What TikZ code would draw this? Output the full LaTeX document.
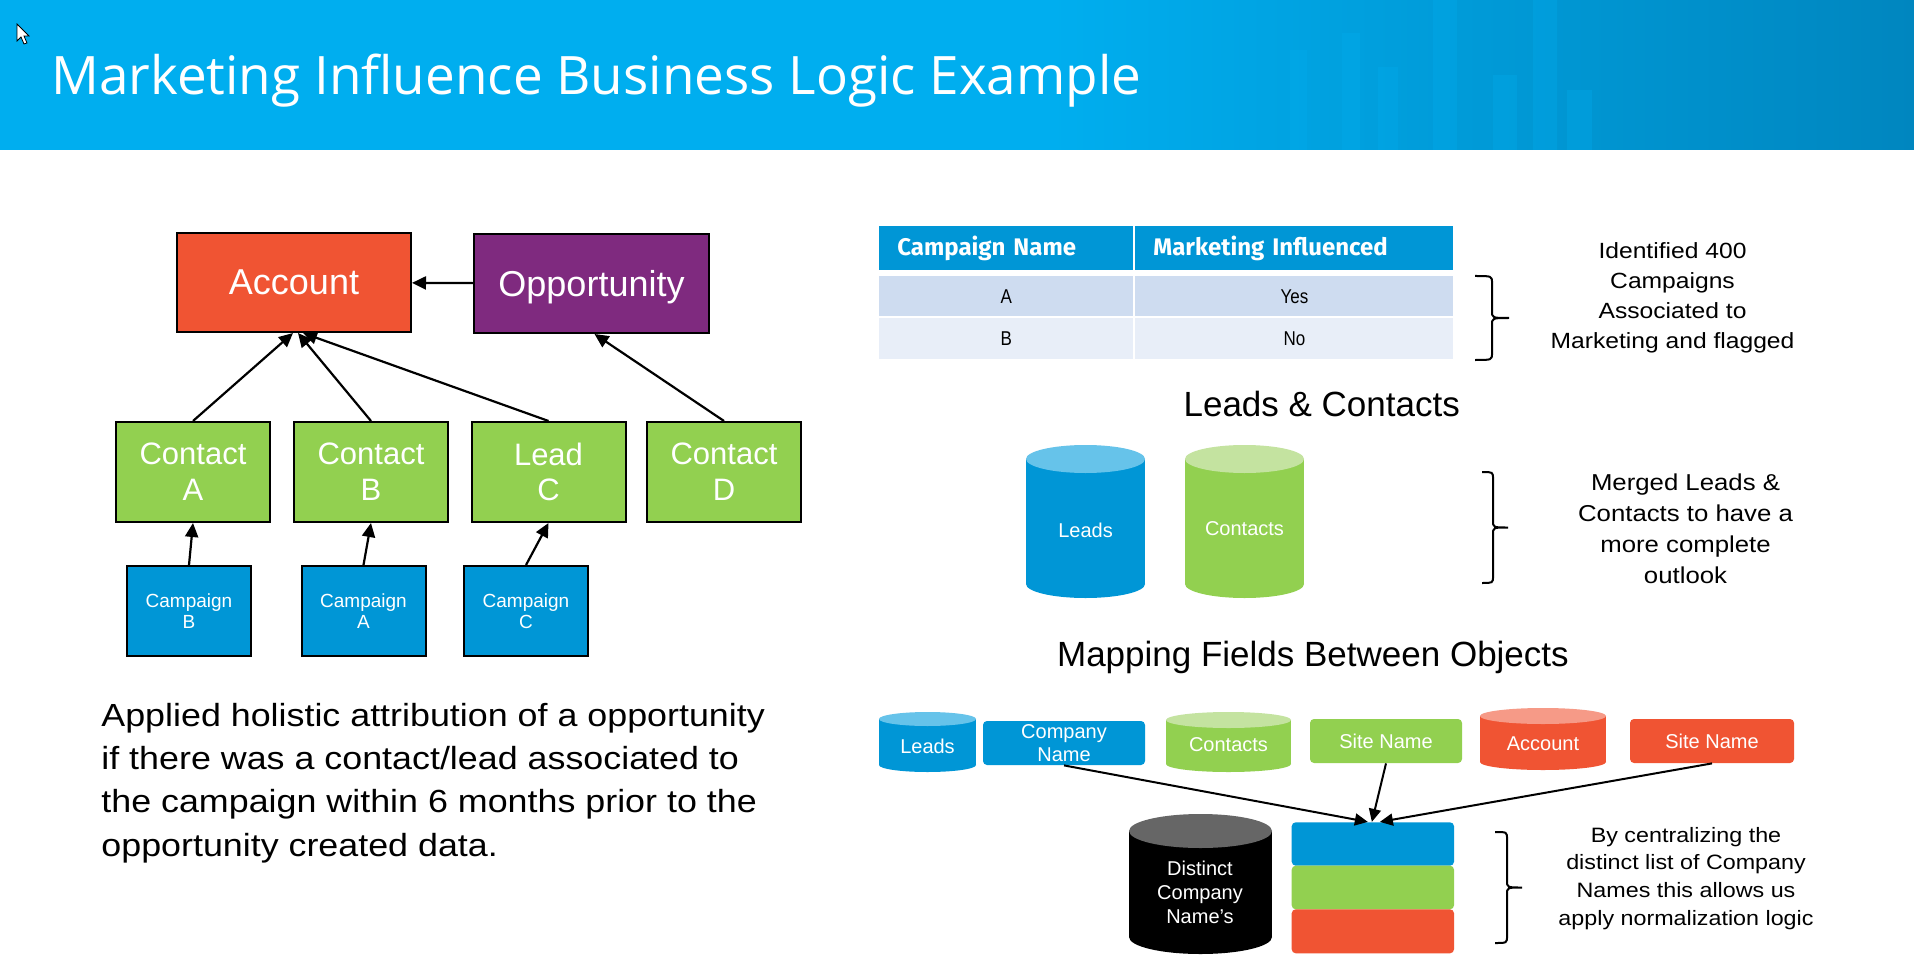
\documentclass[tikz,border=0pt]{standalone}
\usepackage{fontspec}
\setmainfont{Liberation Sans}
\newfontfamily\arialf{Liberation Sans}
\newfontfamily\arialw[FakeStretch=1.12]{Liberation Sans}
\newfontfamily\narrowf[FakeStretch=0.85]{Liberation Sans}
\newfontfamily\titlef{Open Sans}
\newfontfamily\tablef{Fira Sans}
\usetikzlibrary{arrows.meta,calc}
\definecolor{hdrblue}{HTML}{00AEEF}
\definecolor{hdrdark}{HTML}{0086BF}
\definecolor{accred}{HTML}{F05433}
\definecolor{opppurple}{HTML}{7F2A7F}
\definecolor{objgreen}{HTML}{92D050}
\definecolor{campblue}{HTML}{0096D6}
\definecolor{leadtop}{HTML}{66C3EA}
\definecolor{conttop}{HTML}{C4E3A0}
\definecolor{acctop}{HTML}{F69A87}
\definecolor{distop}{HTML}{666666}
\definecolor{rowa}{HTML}{CEDCF0}
\definecolor{rowb}{HTML}{E8EEF8}
\newcommand{\mycyl}[7]{%
  \fill[#6] (#1-#2,#3+#5) rectangle (#1+#2,#4-#5);
  \fill[#6] (#1,#4-#5) ellipse [x radius=#2, y radius=#5];
  \fill[#7] (#1,#3+#5) ellipse [x radius=#2, y radius=#5];
}
\newcommand{\mybrace}[6]{%
  \draw[brace] (#1,#4) .. controls (#2,#4) .. (#2,#4+7) -- (#2,#5-7)
    .. controls (#2,#5) .. (#3,#5) .. controls (#2,#5) .. (#2,#5+7)
    -- (#2,#6-7) .. controls (#2,#6) .. (#1,#6);
}
\begin{document}
\begin{tikzpicture}[x=0.5pt,y=-0.5pt,
  box/.style={draw=black, line width=1pt, inner sep=0pt, text=white, align=center},
  bigbox/.style={box, font=\arialf\fontsize{18}{20}\selectfont, minimum width=117pt, minimum height=49.5pt, text depth=0pt},
  midbox/.style={box, fill=objgreen, font=\arialf\fontsize{15.5}{17.85}\selectfont, minimum width=77pt, minimum height=50pt},
  campbox/.style={box, fill=campblue, font=\arialf\fontsize{9.5}{10.5}\selectfont, minimum width=62pt, minimum height=45pt},
  arr/.style={draw=black, line width=1.1pt, -{Triangle[length=7pt,width=6.5pt]}},
  marr/.style={draw=black, line width=1pt, -{Triangle[length=6.5pt,width=6pt]}},
  rbox/.style={rounded corners=2pt, inner sep=0pt, text=white, align=center, font=\arialf\fontsize{10}{11.75}\selectfont},
  lbl/.style={text=white, inner sep=0pt, align=center, font=\arialf\fontsize{10}{12}\selectfont},
  note/.style={inner sep=0pt, align=center, anchor=north, text=black},
  brace/.style={draw=black, line width=1pt},
  hcell/.style={inner sep=0pt, inner xsep=9pt, anchor=north west, fill=campblue, minimum height=22pt, text=white, align=left, font=\tablef\bfseries\fontsize{12}{14}\selectfont},
  rcell/.style={inner sep=0pt, anchor=north west, text=black, align=center, font=\narrowf\fontsize{10}{11}\selectfont},
  heading/.style={inner sep=0pt, text=black, font=\arialf\fontsize{17.5}{20}\selectfont}
]
\useasboundingbox (0,0) rectangle (1914,962);
\fill[white] (0,0) rectangle (1914,962);
% header band
\fill[hdrblue] (0,0) rectangle (1914,150);
\shade[left color=hdrblue, right color=hdrdark] (1050,0) rectangle (1914,150);
\foreach \xa/\xb/\yt in {1290/1307/50, 1342/1360/33, 1378/1398/67, 1433/1457/0, 1493/1517/75, 1533/1557/0, 1567/1592/90}
  \fill[hdrblue, opacity=0.3] (\xa,\yt) rectangle (\xb,150);
\node[anchor=base west, inner sep=0pt, text=white, font=\titlef\fontsize{26.5}{32}\selectfont] (title) at (51,95) {Marketing Influence Business Logic Example};
\filldraw[fill=white, draw=black, line width=0.4pt] (17,24) -- (17,41) -- (21,37) -- (24,44) -- (27,43) -- (24,36) -- (29,36) -- cycle;

% left hierarchy
\node[bigbox, fill=accred] (acc) at (294,282.5) {Account};
\node[bigbox, fill=opppurple, minimum width=117.5pt] (opp) at (591.5,283.5) {Opportunity};
\node[midbox] (ca) at (193,472) {Contact\\A};
\node[midbox] (cb) at (371,472) {Contact\\B};
\node[midbox] (lc) at (548.5,472) {Lead\\C};
\node[midbox] (cd) at (724,472) {Contact\\D};
\node[campbox] (campB) at (189,611) {Campaign\\B};
\node[campbox] (campA) at (363.5,611) {Campaign\\A};
\node[campbox] (campC) at (526,611) {Campaign\\C};
\draw[arr] (opp) -- (acc);
\draw[arr] (ca.north) -- ($(acc.south)+(-1,0)$);
\draw[arr] (cb.north) -- ($(acc.south)+(4,0)$);
\draw[arr] (lc.north) -- ($(acc.south)+(9,0)$);
\draw[arr] (cd.north) -- ($(opp.south)+(3,0)$);
\draw[arr] (campB.north) -- (ca.south);
\draw[arr] (campA.north) -- (cb.south);
\draw[arr] (campC.north) -- (lc.south);

\node[anchor=north west, inner sep=0pt, align=left, text=black, font=\arialw\fontsize{16}{21.7}\selectfont] (para) at (101,702.5) {Applied holistic attribution of a opportunity\\if there was a contact/lead associated to\\the campaign within 6 months prior to the\\opportunity created data.};

% table
\node[hcell, minimum width=127pt, text width=109pt] (h1) at (879,226) {Campaign Name};
\node[hcell, minimum width=159pt, text width=141pt] (h2) at (1135,226) {Marketing Influenced};
\node[rcell, fill=rowa, minimum width=127pt, minimum height=20pt] (a1) at (879,276) {A};
\node[rcell, fill=rowa, minimum width=159pt, minimum height=20pt] (a2) at (1135,276) {Yes};
\node[rcell, fill=rowb, minimum width=127pt, minimum height=20.5pt] (b1) at (879,318) {B};
\node[rcell, fill=rowb, minimum width=159pt, minimum height=20.5pt] (b2) at (1135,318) {No};
\mybrace{1475}{1492}{1509}{276}{318}{360}
\node[note, font=\arialw\fontsize{11}{15}\selectfont] (note1) at (1672.5,241.7) {Identified 400\\Campaigns\\Associated to\\Marketing and flagged};

% leads & contacts
\node[heading, anchor=base] (h-lc) at (1321.7,416) {Leads \& Contacts};
\mycyl{1085.5}{59.5}{445}{598}{14}{campblue}{leadtop}
\mycyl{1244.5}{59.5}{445}{598}{14}{objgreen}{conttop}
\node[lbl] (leadsbig) at (1085.5,530) {Leads};
\node[lbl] (contbig) at (1244.5,529) {Contacts};
\mybrace{1482}{1493}{1508}{472}{527.5}{583}
\node[note, font=\arialw\fontsize{11.5}{15.5}\selectfont] (note2) at (1685.5,473.3) {Merged Leads \&\\Contacts to have a\\more complete\\outlook};

% mapping
\node[heading, anchor=base west] (h-map) at (1056.7,666) {Mapping Fields Between Objects};
\mycyl{927.5}{48.5}{712}{772}{7}{campblue}{leadtop}
\mycyl{1228.5}{62.5}{712}{772}{8}{objgreen}{conttop}
\mycyl{1543}{63}{708}{770}{8}{accred}{acctop}
\node[lbl] (leadsm) at (927.5,746) {Leads};
\node[lbl] (contsm) at (1228.5,745) {Contacts};
\node[lbl] (accsm) at (1543,744) {Account};
\node[rbox, fill=campblue, minimum width=81pt, minimum height=22pt] (cname) at (1064,743) {Company\\Name};
\node[rbox, fill=objgreen, minimum width=76pt, minimum height=22pt] (sitg) at (1386,741) {Site Name};
\node[rbox, fill=accred, minimum width=82pt, minimum height=22pt] (sitr) at (1712,741) {Site Name};
\mycyl{1200.5}{71.5}{814}{954}{17}{black}{distop}
\node[lbl, anchor=north] (distinct) at (1200,860.7) {Distinct\\Company\\Name’s};
\node[rbox, fill=campblue, minimum width=81.15pt, minimum height=21.7pt] (stackb) at (1372.85,844) {};
\node[rbox, fill=objgreen, minimum width=81.15pt, minimum height=21.8pt] (stackg) at (1372.85,887.5) {};
\node[rbox, fill=accred, minimum width=81.15pt, minimum height=22pt] (stackr) at (1372.85,931.3) {};
\draw[marr] (cname.south) -- ($(stackb.north)+(-5,0)$);
\draw[marr] (sitg.south) -- ($(stackb.north)+(-1,0)$);
\draw[marr] (sitr.south) -- ($(stackb.north)+(7,0)$);
\mybrace{1495}{1507}{1522}{832}{887.5}{943}
\node[note, font=\arialw\fontsize{10.4}{13.9}\selectfont] (note3) at (1686,826.7) {By centralizing the\\distinct list of Company\\Names this allows us\\apply normalization logic};
\end{tikzpicture}
\end{document}
